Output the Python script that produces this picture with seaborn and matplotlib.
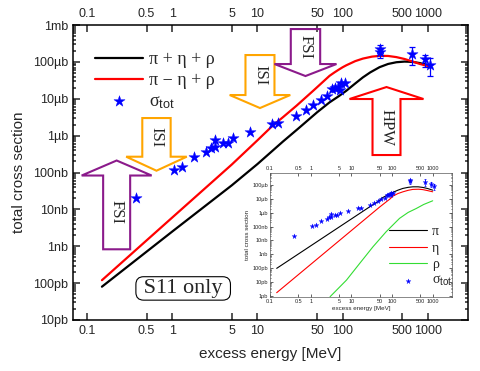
import numpy as np
import pandas as pd
import seaborn as sns
import matplotlib.pyplot as plt
from matplotlib.patches import Polygon
from matplotlib.ticker import FixedLocator, LogLocator, NullLocator, NullFormatter

# excess energy [MeV] / cross sections [microbarn]
full_e = [0.15, 1, 5, 10, 20, 30, 50, 70, 90, 110, 140, 172, 210, 270, 340, 425, 530, 664, 800, 1000]
full_sig = [8e-5, 2.5e-3, 0.045, 0.17, 0.7, 1.55, 4.3, 8.0, 11.8, 16.5, 26, 38, 52, 72, 88, 98,
            102, 100, 93, 82]
minus_e = [0.15, 1, 5, 10, 15, 20, 28.7, 45, 70, 80, 90, 100, 110, 140, 172, 220, 270, 340, 425,
           530, 664, 800, 1000]
minus_sig = [1.2e-4, 6e-3, 0.165, 0.75, 1.85, 3.2, 6.5, 16.5, 42, 52, 62, 72, 81, 105, 123, 139,
             146, 145, 135, 120, 102, 88, 77]

# inset components
pi_e = [0.146, 28.3, 45, 60, 80, 105, 140, 185, 250, 325, 440, 571, 750, 1000]
pi_sig = [9.8e-5, 2.65, 6.3, 12.6, 19.5, 29, 42, 56, 67, 73, 73, 66, 55, 42]
eta_e = [0.146, 50, 72, 90, 105, 140, 185, 250, 325, 450, 571, 750, 1000]
eta_sig = [1.73e-6, 2.6, 6.0, 10, 15.6, 24, 31.8, 41, 47.6, 49, 46, 39, 32]
rho_e = [3.0, 7.6, 16, 34, 72, 153, 250, 394, 600, 1000]
rho_sig = [8.9e-7, 1.4e-5, 2.2e-4, 3.5e-3, 0.043, 0.39, 1.05, 2.0, 3.9, 7.2]

# measured total cross section
data_e = [0.38, 1.06, 1.32, 1.78, 2.48, 2.84, 3.18, 3.2, 3.92, 4.56, 5.2, 8.2, 14.6, 17.3,
          28.2, 36.8, 45, 55, 65.6, 74, 80.5, 88, 92, 96, 105, 275]
data_sig = [0.021, 0.117, 0.138, 0.27, 0.36, 0.47, 0.5, 0.75, 0.65, 0.65, 0.88, 1.29, 2.05, 2.24,
            3.4, 4.9, 6.8, 9.5, 11.8, 18, 19.5, 21, 17.5, 26, 26, 190]
err_e = [270, 640, 910, 1060]
err_sig = [230, 168, 117, 83]
err_low = [125, 83, 74, 41]
err_high = [288, 250, 154, 125]

xticks = [0.1, 0.5, 1, 5, 10, 50, 100, 500, 1000]
xticklabels = ['0.1', '0.5', '1', '5', '10', '50', '100', '500', '1000']
yticks = [1e-5, 1e-4, 1e-3, 1e-2, 1e-1, 1, 10, 100, 1000]
yticklabels = ['10pb', '100pb', '1nb', '10nb', '100nb', '1µb', '10µb', '100µb', '1mb']
inset_yticks = [1e-6, 1e-5, 1e-4, 1e-3, 1e-2, 1e-1, 1, 10, 100]
inset_yticklabels = ['1pb', '10pb', '100pb', '1nb', '10nb', '100nb', '1µb', '10µb', '100µb']

sns.set_style('ticks')
plt.rcParams['font.family'] = ['Liberation Sans', 'DejaVu Sans']
plt.rcParams['mathtext.fontset'] = 'custom'
plt.rcParams['mathtext.rm'] = 'Liberation Serif'
plt.rcParams['mathtext.it'] = 'Liberation Serif:italic'
plt.rcParams['mathtext.sf'] = 'Liberation Sans'

SERIF = ['Liberation Serif', 'DejaVu Serif']


def setup_axis(ax, ylo, yhi, ytk, ytl, fs, ticklen, lw):
    ax.set_xscale('log')
    ax.set_yscale('log')
    ax.set_ylim(ylo, yhi)
    ax.xaxis.set_major_locator(FixedLocator(xticks))
    ax.set_xticklabels(xticklabels)
    ax.xaxis.set_minor_locator(NullLocator())
    ax.yaxis.set_major_locator(FixedLocator(ytk))
    ax.set_yticklabels(ytl)
    ax.yaxis.set_minor_locator(LogLocator(base=10, subs=np.arange(2, 10), numticks=30))
    ax.yaxis.set_minor_formatter(NullFormatter())
    ax.tick_params(which='both', direction='in', top=True, right=True, labeltop=True,
                   labelsize=fs, width=lw)
    ax.tick_params(which='major', length=ticklen)
    ax.tick_params(which='minor', length=ticklen * 0.5)
    for s in ax.spines.values():
        s.set_linewidth(lw)
        s.set_color('black')


def block_arrow(ax, xc, ws, wh, y_tail, y_base, y_tip, color, label):
    verts = [(xc - ws, y_tail), (xc - ws, y_base), (xc - wh, y_base), (xc, y_tip),
             (xc + wh, y_base), (xc + ws, y_base), (xc + ws, y_tail)]
    ax.add_patch(Polygon(verts, closed=True, fill=False, edgecolor=color, lw=1.5,
                         transform=ax.transAxes, zorder=4))
    ax.text(xc, (y_tail + y_base) / 2, label, rotation=-90, ha='center', va='center',
            transform=ax.transAxes, family=SERIF, fontsize=12, zorder=5)


fig = plt.figure(figsize=(4.8, 3.71), dpi=100)
ax = fig.add_axes([0.152, 0.1375, 0.823, 0.795])

sns.lineplot(x=full_e, y=full_sig, ax=ax, color='black', lw=1.6, sort=False,
             label='π + η + ρ')
sns.lineplot(x=minus_e, y=minus_sig, ax=ax, color='red', lw=1.6, sort=False,
             label='π − η + ρ')
sns.scatterplot(x=data_e + err_e, y=data_sig + err_sig, ax=ax, marker='*', s=70,
                color='blue', edgecolor='blue', linewidth=0.3, zorder=6,
                label=r'$\mathrm{\sigma}_{\mathsf{tot}}$')
ax.errorbar(err_e, err_sig,
            yerr=[np.array(err_sig) - np.array(err_low), np.array(err_high) - np.array(err_sig)],
            fmt='none', ecolor='blue', elinewidth=0.9, capsize=2.5, capthick=0.9, zorder=5)

setup_axis(ax, 1e-5, 1e3, yticks, yticklabels, 9, 5, 1.1)
ax.set_xlim(0.0686, 2940)
ax.tick_params(which='major', pad=3.5)
ax.set_xlabel('excess energy [MeV]', fontsize=11, labelpad=7)
ax.set_ylabel('total cross section', fontsize=11, labelpad=5)

ax.legend(loc='upper left', bbox_to_anchor=(0.0557, 0.911), frameon=False,
          borderpad=0, borderaxespad=0, handlelength=2.67, handletextpad=0.3,
          labelspacing=0.22, prop={'family': SERIF, 'size': 13})

block_arrow(ax, 0.1106, 0.0342, 0.0886, 0.2397, 0.4898, 0.5407, '#8b1a8b', 'FSI')
block_arrow(ax, 0.2114, 0.0359, 0.0767, 0.6847, 0.5536, 0.5061, '#ffa500', 'ISI')
block_arrow(ax, 0.4734, 0.0367, 0.0767, 0.8983, 0.7627, 0.7186, '#ffa500', 'ISI')
block_arrow(ax, 0.5886, 0.0372, 0.0785, 0.9864, 0.8678, 0.8271, '#8b1a8b', 'FSI')
block_arrow(ax, 0.7937, 0.0354, 0.0937, 0.5593, 0.7492, 0.7898, 'red', 'HPW')

ax.text(0.279, 0.107, ' S11 only ', transform=ax.transAxes, ha='center', va='center',
        family=SERIF, fontsize=16,
        bbox=dict(boxstyle='round,pad=0.1,rounding_size=0.35', fc='white', ec='black', lw=0.8))

# inset with the single components
ax2 = fig.add_axes([0.5625, 0.2003, 0.3785, 0.3342])
sns.lineplot(x=pi_e, y=pi_sig, ax=ax2, color='black', lw=0.8, sort=False, label='π')
sns.lineplot(x=eta_e, y=eta_sig, ax=ax2, color='red', lw=0.8, sort=False, label='η')
sns.lineplot(x=rho_e, y=rho_sig, ax=ax2, color='#33dd33', lw=0.8, sort=False, label='ρ')
sns.scatterplot(x=data_e + err_e, y=data_sig + err_sig, ax=ax2, marker='*', s=14,
                color='blue', edgecolor='blue', linewidth=0.2, zorder=6,
                label=r'$\mathrm{\sigma}_{\mathsf{tot}}$')
ax2.errorbar(err_e, err_sig,
             yerr=[np.array(err_sig) - np.array(err_low), np.array(err_high) - np.array(err_sig)],
             fmt='none', ecolor='blue', elinewidth=0.5, capsize=1, capthick=0.5, zorder=5)
setup_axis(ax2, 10 ** -6.05, 10 ** 2.88, inset_yticks, inset_yticklabels, 4, 2, 0.5)
ax2.set_xlim(0.1, 2930)
ax2.tick_params(which='major', pad=1.5)
for s in ax2.spines.values():
    s.set_color('0.35')
ax2.set_xlabel('excess energy [MeV]', fontsize=4.5, labelpad=1.5)
ax2.set_ylabel('total cross section', fontsize=4.5, labelpad=1.5)
ax2.legend(loc='upper left', bbox_to_anchor=(0.657, 0.576), frameon=False,
           borderpad=0, borderaxespad=0, handlelength=2.7, handletextpad=0.38,
           labelspacing=0.24, prop={'family': SERIF, 'size': 10})

fig.savefig('out.png', dpi=100)
